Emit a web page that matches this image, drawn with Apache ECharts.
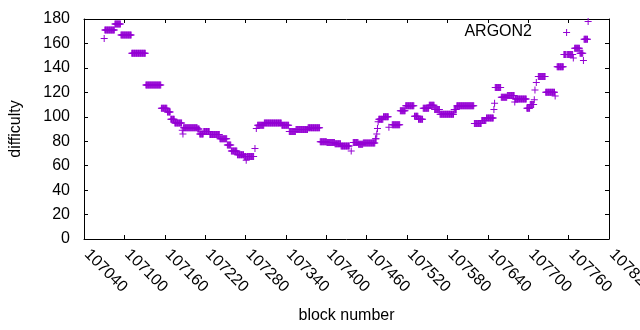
<!DOCTYPE html>
<html>
<head>
<meta charset="utf-8">
<script src="https://cdn.jsdelivr.net/npm/echarts@6/dist/echarts.min.js"></script>
<style>
html,body{margin:0;padding:0;background:#fff;}
#chart{width:640px;height:330px;}
</style>
</head>
<body>
<div id="chart"></div>
<script>
// x-axis tick settings (block numbers)
const xMin = 107040;
const xMax = 107820;
const xStep = 60;
// y-axis tick settings (difficulty)
const yMin = 0;
const yMax = 180;
const yStep = 20;
const seriesName = 'ARGON2';
// Runs of blocks with the same difficulty: [first block, last block, difficulty]
const runFirst = [107070,107071,107086,107095,107111,107132,107155,107164,107169,107175,107186,107187,107188,107209,107212,107218,107227,107242,107253,107259,107268,107278,107281,107282,107294,107296,107298,107308,107334,107345,107355,107373,107391,107401,107413,107422,107437,107440,107448,107455,107473,107475,107476,107477,107478,107485,107493,107498,107510,107518,107531,107537,107544,107553,107561,107569,107590,107594,107620,107631,107638,107649,107650,107651,107660,107669,107680,107681,107698,107703,107709,107710,107712,107715,107726,107740,107743,107753,107757,107758,107767,107769,107777,107782,107783,107789];
const runLast  = [107070,107085,107094,107110,107131,107154,107163,107168,107174,107185,107186,107187,107208,107211,107217,107226,107241,107252,107258,107267,107277,107280,107281,107292,107294,107296,107307,107333,107344,107354,107372,107390,107400,107412,107421,107434,107437,107447,107454,107472,107474,107475,107476,107477,107484,107492,107493,107509,107517,107530,107536,107543,107552,107560,107568,107589,107593,107619,107630,107637,107648,107649,107650,107659,107668,107679,107680,107697,107702,107708,107709,107710,107712,107725,107739,107740,107752,107756,107757,107766,107767,107776,107781,107782,107788,107789];
const runValue = [164,171,176,167,152,126,107,104,98,95,89,86,91,90,86,88,85.5,82,77,72,69,67.5,64.5,67.5,74,90.5,93,95,93,88,89.5,91,79.5,79,78,76,72,79,77.5,78.5,82,86,90.5,96,98,100,91.5,93.5,105,109,100.5,98,107,109.5,106,102,106,109,94.5,97,99,106,111,124,116,117.5,112,114.5,107,110,114,122,128,133,120,117,141,151,169,151,148,156,152,146,163.5,178];

// one point per block, each block inside a run has the run's difficulty
const points = [];
for (let i = 0; i < runFirst.length; i++) {
  for (let b = runFirst[i]; b <= runLast[i]; b++) points.push([b, runValue[i]]);
}

const FONT = "'Liberation Sans', Arial, sans-serif";
const FS = 16;
const chart = echarts.init(document.getElementById('chart'), null, {renderer: 'canvas'});
const crossPath = 'path://M0,3H7V4H0Z M3,0H4V7H3Z';
chart.setOption({
  animation: false,
  backgroundColor: '#ffffff',
  textStyle: {fontFamily: FONT},
  title: {
    text: seriesName,
    right: 108, top: 24, padding: 0,
    textStyle: {fontFamily: FONT, fontSize: FS, fontWeight: 'normal', color: '#000'}
  },
  grid: {left: 84, right: 31, top: 19, bottom: 91, containLabel: false, outerBoundsMode: 'none'},
  xAxis: [{
    type: 'value', position: 'bottom', min: xMin, max: xMax, interval: xStep,
    axisLine: {show: true, onZero: false, lineStyle: {color: '#000', width: 1}},
    axisTick: {show: true, inside: true, length: 4, lineStyle: {color: '#000'}},
    axisLabel: {rotate: -45, margin: 10, verticalAlign: 'middle', padding: [0, 0, 0, 4],
                fontSize: FS, color: '#000', fontFamily: FONT,
                showMinLabel: true, showMaxLabel: true, hideOverlap: false, formatter: v => String(v)},
    splitLine: {show: false},
    name: 'block number', nameLocation: 'middle', nameGap: 69,
    nameTextStyle: {fontSize: FS, color: '#000', fontFamily: FONT}
  }, {
    type: 'value', position: 'top', min: xMin, max: xMax, interval: xStep,
    axisLine: {show: true, onZero: false, lineStyle: {color: '#000', width: 1}},
    axisTick: {show: true, inside: true, length: 4, lineStyle: {color: '#000'}},
    axisLabel: {show: false}, splitLine: {show: false}
  }],
  yAxis: [{
    type: 'value', position: 'left', min: yMin, max: yMax, interval: yStep,
    axisLine: {show: true, onZero: false, lineStyle: {color: '#000', width: 1}},
    axisTick: {show: true, inside: true, length: 4, lineStyle: {color: '#000'}},
    axisLabel: {margin: 14, fontSize: FS, color: '#000', fontFamily: FONT},
    splitLine: {show: false},
    name: 'difficulty', nameLocation: 'middle', nameGap: 60, nameRotate: 90,
    nameTextStyle: {fontSize: FS, color: '#000', fontFamily: FONT}
  }, {
    type: 'value', position: 'right', min: yMin, max: yMax, interval: yStep,
    axisLine: {show: true, onZero: false, lineStyle: {color: '#000', width: 1}},
    axisTick: {show: true, inside: true, length: 4, lineStyle: {color: '#000'}},
    axisLabel: {show: false}, splitLine: {show: false}
  }],
  series: [{
    name: seriesName, type: 'scatter', xAxisIndex: 0, yAxisIndex: 0,
    data: points, symbol: crossPath, symbolSize: 7, large: false,
    itemStyle: {color: '#9400D3', opacity: 1},
    emphasis: {disabled: true}
  }]
});
</script>
</body>
</html>
